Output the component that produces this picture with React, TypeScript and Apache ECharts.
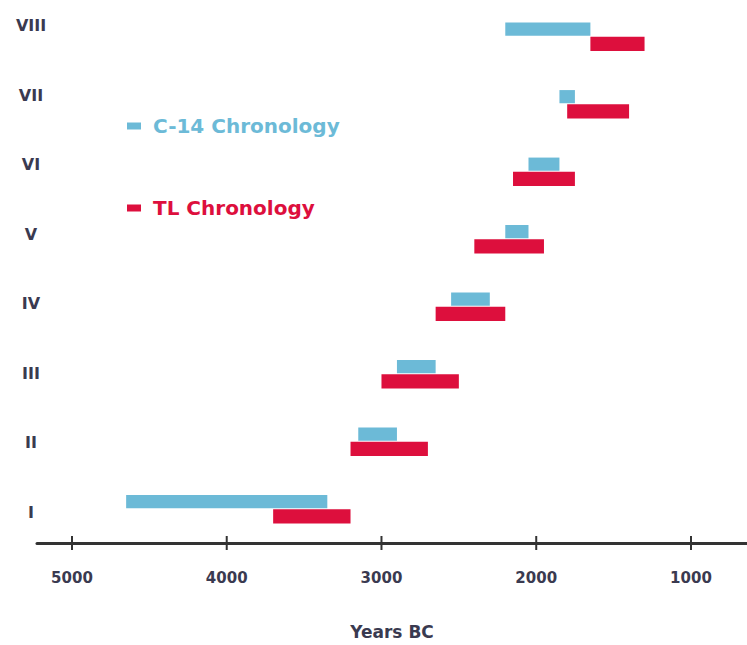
import React, { useEffect, useRef } from "react";
import * as echarts from "echarts";

// Categories (bottom to top)
const periods = ["I", "II", "III", "IV", "V", "VI", "VII", "VIII"];
// C-14 chronology ranges, years BC: [start, end]
const c14Start = [4650, 3150, 2900, 2550, 2200, 2050, 1850, 2200];
const c14End = [3350, 2900, 2650, 2300, 2050, 1850, 1750, 1650];
// TL chronology ranges, years BC
const tlStart = [3700, 3200, 3000, 2650, 2400, 2150, 1800, 1650];
const tlEnd = [3200, 2700, 2500, 2200, 1950, 1750, 1400, 1300];
// Tick labels on the x axis
const xTicks = [1000, 2000, 3000, 4000, 5000];

const C14_COLOR = "#6cbad7";
const TL_COLOR = "#dd0f3d";
const TEXT_COLOR = "#3a3a50";
const AXIS_COLOR = "#333333";

function makeRender(kind: "c14" | "tl", color: string) {
  return (params: any, api: any) => {
    const cat = api.value(0);
    const s = api.value(1);
    const e = api.value(2);
    const p1 = api.coord([s, cat]);
    const p2 = api.coord([e, cat]);
    const band = api.size([0, 1])[1];
    const h = kind === "c14" ? band * 0.195 : band * 0.21;
    const y = kind === "c14" ? p1[1] - h - band * 0.015 : p1[1];
    return {
      type: "rect",
      shape: {
        x: Math.min(p1[0], p2[0]),
        y,
        width: Math.abs(p2[0] - p1[0]),
        height: h,
      },
      style: { fill: color },
    };
  };
}

function renderTick(params: any, api: any) {
  const p = api.coord([api.value(0), 0]);
  const cs = params.coordSys;
  const y0 = cs.y + cs.height;
  return {
    type: "line",
    shape: { x1: p[0], y1: y0 - 7, x2: p[0], y2: y0 + 7 },
    style: { stroke: AXIS_COLOR, lineWidth: 2 },
  };
}

export default function App() {
  const ref = useRef<HTMLDivElement>(null);
  useEffect(() => {
    if (!ref.current) return;
    const chart = echarts.init(ref.current, null, { renderer: "svg" });
    const c14Data = periods.map((_, i) => [i, c14Start[i], c14End[i]]);
    const tlData = periods.map((_, i) => [i, tlStart[i], tlEnd[i]]);
    const tickData = xTicks.map((v) => [v, 0]);
    const font = "DejaVu Sans, Verdana, sans-serif";
    chart.setOption({
      animation: false,
      backgroundColor: "#ffffff",
      grid: [
        { left: 37, right: 0, top: 3, bottom: 101, containLabel: false },
        { left: 37, right: 0, top: 0, bottom: 89, containLabel: false },
      ],
      legend: {
        orient: "vertical",
        left: 127,
        top: 116,
        padding: 0,
        itemGap: 62,
        itemWidth: 14,
        itemHeight: 7,
        icon: "rect",
        selectedMode: false,
        data: [
          { name: "C-14 Chronology", textStyle: { color: C14_COLOR } },
          { name: "TL Chronology", textStyle: { color: TL_COLOR } },
        ],
        textStyle: {
          fontFamily: font,
          fontSize: 20,
          fontWeight: "bold",
          padding: [0, 0, 0, 7],
        },
      },
      xAxis: [
        {
          type: "value",
          gridIndex: 0,
          min: 638,
          max: 5226,
          inverse: true,
          position: "bottom",
          name: "Years BC",
          nameLocation: "middle",
          nameGap: 80,
          nameTextStyle: {
            fontFamily: font,
            fontSize: 17,
            fontWeight: "bold",
            color: TEXT_COLOR,
          },
          splitLine: { show: false },
          axisLine: { show: true, lineStyle: { color: AXIS_COLOR, width: 3 } },
          axisTick: { show: false },
          axisLabel: {
            customValues: xTicks,
            formatter: (v: number) => String(v),
            margin: 27,
            fontFamily: font,
            fontSize: 15,
            fontWeight: "bold",
            color: TEXT_COLOR,
          },
        },
        {
          type: "value",
          gridIndex: 1,
          min: 638,
          max: 5226,
          inverse: true,
          show: false,
        },
      ],
      yAxis: [
        {
          type: "category",
          gridIndex: 0,
          data: periods,
          axisLine: { show: false },
          axisTick: { show: false },
          splitLine: { show: false },
          axisLabel: { show: false },
        },
        {
          type: "category",
          gridIndex: 1,
          data: periods,
          axisLine: { show: false },
          axisTick: { show: false },
          splitLine: { show: false },
          axisLabel: {
            align: "center",
            verticalAlign: "bottom",
            lineHeight: 18,
            margin: 6,
            fontFamily: font,
            fontSize: 16,
            fontWeight: "bold",
            color: TEXT_COLOR,
          },
        },
      ],
      series: [
        {
          name: "C-14 Chronology",
          type: "custom",
          xAxisIndex: 0,
          yAxisIndex: 0,
          itemStyle: { color: C14_COLOR },
          renderItem: makeRender("c14", C14_COLOR),
          encode: { x: [1, 2], y: 0 },
          data: c14Data,
        },
        {
          name: "TL Chronology",
          type: "custom",
          xAxisIndex: 0,
          yAxisIndex: 0,
          itemStyle: { color: TL_COLOR },
          renderItem: makeRender("tl", TL_COLOR),
          encode: { x: [1, 2], y: 0 },
          data: tlData,
        },
        {
          name: "ticks",
          type: "custom",
          xAxisIndex: 0,
          yAxisIndex: 0,
          silent: true,
          renderItem: renderTick,
          encode: { x: 0, y: 1 },
          data: tickData,
        },
      ],
    });
    return () => chart.dispose();
  }, []);
  return (
    <div
      ref={ref}
      style={{ position: "fixed", left: 0, top: 0, width: 747, height: 645 }}
    />
  );
}
